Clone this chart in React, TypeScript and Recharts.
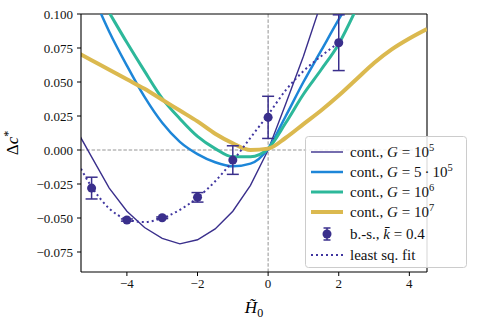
import React from 'react';
import { ComposedChart, Line, Scatter, ErrorBar, XAxis, YAxis, ReferenceLine } from 'recharts';

// H~0 grid for the continuum curves and the fit
const H_GRID = [-5.5, -5, -4.5, -4, -3.5, -3, -2.5, -2, -1.5, -1, -0.5, 0, 0.5, 1, 1.5, 2, 2.5, 3, 3.5, 4, 4.5];

const DC_G1E5 = [0.018, -0.005, -0.028, -0.045, -0.057, -0.065, -0.069, -0.066, -0.058, -0.045, -0.026, 0.0, 0.034, 0.069, 0.108, null, null, null, null, null, null];
const DC_G5E5 = [null, 0.116, 0.087, 0.062, 0.039, 0.02, 0.006, -0.003, -0.009, -0.012, -0.01, 0.001, 0.025, 0.05, 0.073, 0.096, 0.118, null, null, null, null];
const DC_G1E6 = [null, 0.123, 0.101, 0.079, 0.058, 0.038, 0.023, 0.01, 0.001, -0.005, -0.005, 0.001, 0.02, 0.041, 0.059, 0.078, 0.104, null, null, null, null];
const DC_G1E7 = [0.073, 0.066, 0.059, 0.052, 0.045, 0.037, 0.029, 0.021, 0.012, 0.005, 0.0, 0.001, 0.009, 0.019, 0.029, 0.04, 0.052, 0.064, 0.074, 0.082, 0.089];
const DC_FIT = [-0.004, -0.027, -0.043, -0.051, -0.053, -0.05, -0.044, -0.035, -0.023, -0.008, 0.009, 0.026, 0.044, 0.058, 0.069, 0.079, null, null, null, null, null];

// bootstrap points, k = 0.4
const BS_H = [-5, -4, -3, -2, -1, 0, 2];
const BS_DC = [-0.028, -0.0515, -0.0498, -0.0348, -0.0074, 0.024, 0.0789];
const BS_ERR = [0.008, 0.0008, 0.0006, 0.0035, 0.0105, 0.0155, 0.0205];

const X_TICKS = [-4, -2, 0, 2, 4];
const Y_TICKS = [-0.075, -0.05, -0.025, 0, 0.025, 0.05, 0.075, 0.1];

const C_DARK = '#3a2f8c';
const C_BLUE = '#1d86d8';
const C_TEAL = '#2db89a';
const C_GOLD = '#dbb94f';
const FONT = '"Liberation Serif", serif';

const curves = H_GRID.map((h, i) => ({
  h,
  g1e5: DC_G1E5[i],
  g5e5: DC_G5E5[i],
  g1e6: DC_G1E6[i],
  g1e7: DC_G1E7[i],
  fit: DC_FIT[i],
}));

const points = BS_H.map((h, i) => ({ h, dc: BS_DC[i], err: BS_ERR[i] }));

const minus = (s: string) => s.replace('-', '\u2212');

function XLabel(props: any) {
  const vb = props.viewBox;
  return (
    <text x={vb.x + vb.width / 2} y={vb.y + 41} textAnchor="middle" fontFamily={FONT} fontSize={17} fill="#000">
      <tspan fontStyle="italic">H&#771;</tspan>
      <tspan dy={4} fontSize={12}>0</tspan>
    </text>
  );
}

function YLabel(props: any) {
  const vb = props.viewBox;
  const cx = vb.x + 18;
  const cy = vb.y + vb.height / 2;
  return (
    <text transform={`translate(${cx},${cy}) rotate(-90)`} textAnchor="middle" fontFamily={FONT} fontSize={17} fill="#000">
      <tspan>Δ</tspan>
      <tspan fontStyle="italic">c</tspan>
      <tspan dy={-6} fontSize={12}>*</tspan>
    </text>
  );
}

function LegendBox() {
  const rows = [16, 36, 56, 76, 98, 119];
  const tx = 45;
  const fs = 15;
  return (
    <svg width={163} height={133} style={{ position: 'absolute', left: 305, top: 136 }}>
      <rect x={0.5} y={0.5} width={161} height={131} rx={3} fill="rgba(255,255,255,0.85)" stroke="#cccccc" />
      <line x1={6} x2={38} y1={rows[0]} y2={rows[0]} stroke={C_DARK} strokeWidth={1.4} />
      <line x1={6} x2={38} y1={rows[1]} y2={rows[1]} stroke={C_BLUE} strokeWidth={2.5} />
      <line x1={6} x2={38} y1={rows[2]} y2={rows[2]} stroke={C_TEAL} strokeWidth={3} />
      <line x1={6} x2={38} y1={rows[3]} y2={rows[3]} stroke={C_GOLD} strokeWidth={4} />
      <line x1={22} x2={22} y1={rows[4] - 6} y2={rows[4] + 6} stroke={C_DARK} strokeWidth={1.5} />
      <line x1={18.5} x2={25.5} y1={rows[4] - 6} y2={rows[4] - 6} stroke={C_DARK} strokeWidth={1.5} />
      <line x1={18.5} x2={25.5} y1={rows[4] + 6} y2={rows[4] + 6} stroke={C_DARK} strokeWidth={1.5} />
      <circle cx={22} cy={rows[4]} r={4.5} fill={C_DARK} />
      <line x1={6} x2={38} y1={rows[5]} y2={rows[5]} stroke="#4036a0" strokeWidth={2} strokeDasharray="2 3" />
      <g fontFamily={FONT} fontSize={fs} fill="#111">
        {['10', '5\u2009\u00b7\u200910', '10', '10'].map((base, i) => (
          <text key={i} x={tx} y={rows[i] + 5}>
            cont., <tspan fontStyle="italic">G</tspan> = {base}
            <tspan dy={-6} fontSize={10.5}>{['5', '5', '6', '7'][i]}</tspan>
          </text>
        ))}
        <text x={tx} y={rows[4] + 5}>
          b.-s., <tspan fontStyle="italic">k&#772;</tspan> = 0.4
        </text>
        <text x={tx} y={rows[5] + 5}>least sq. fit</text>
      </g>
    </svg>
  );
}

export default function App() {
  return (
    <div style={{ position: 'absolute', left: 0, top: 0, width: 477, height: 328, background: '#fff' }}>
      <ComposedChart width={477} height={328} data={curves} margin={{ top: 14, right: 50, bottom: 0, left: 0 }}>
        <XAxis
          type="number"
          dataKey="h"
          domain={[-5.3, 4.5]}
          allowDataOverflow
          ticks={X_TICKS}
          tickFormatter={(v: number) => minus(String(v))}
          height={56}
          tickSize={4}
          tickMargin={3}
          axisLine={{ stroke: '#000', strokeWidth: 1.1 }}
          tickLine={{ stroke: '#000' }}
          tick={{ fill: '#111', fontFamily: FONT, fontSize: 13 }}
          label={XLabel}
        />
        <YAxis
          type="number"
          domain={[-0.0897, 0.1]}
          allowDataOverflow
          ticks={Y_TICKS}
          tickFormatter={(v: number) => minus(v.toFixed(3))}
          width={81}
          tickSize={4}
          tickMargin={4}
          axisLine={{ stroke: '#000', strokeWidth: 1.1 }}
          tickLine={{ stroke: '#000' }}
          tick={{ fill: '#111', fontFamily: FONT, fontSize: 13 }}
          label={YLabel}
        />
        <ReferenceLine y={0} stroke="#888" strokeWidth={0.9} strokeDasharray="3.5 1.8" />
        <ReferenceLine x={0} stroke="#888" strokeWidth={0.9} strokeDasharray="3.5 1.8" />
        <ReferenceLine y={0.1} stroke="#000" strokeWidth={1.1} />
        <ReferenceLine x={4.5} stroke="#000" strokeWidth={1.1} />
        <Line dataKey="g1e5" type="linear" stroke={C_DARK} strokeWidth={1.4} dot={false} isAnimationActive={false} />
        <Line dataKey="g5e5" type="monotone" stroke={C_BLUE} strokeWidth={2.5} dot={false} isAnimationActive={false} />
        <Line dataKey="g1e6" type="monotone" stroke={C_TEAL} strokeWidth={3} dot={false} isAnimationActive={false} />
        <Line dataKey="g1e7" type="monotone" stroke={C_GOLD} strokeWidth={4} dot={false} isAnimationActive={false} />
        <Line dataKey="fit" type="monotone" stroke="#4036a0" strokeWidth={2} strokeDasharray="2 3" dot={false} isAnimationActive={false} />
        <Scatter data={points} dataKey="dc" fill={C_DARK} isAnimationActive={false}>
          <ErrorBar dataKey="err" direction="y" width={6} stroke={C_DARK} strokeWidth={1.5} />
        </Scatter>
      </ComposedChart>
      <LegendBox />
    </div>
  );
}
